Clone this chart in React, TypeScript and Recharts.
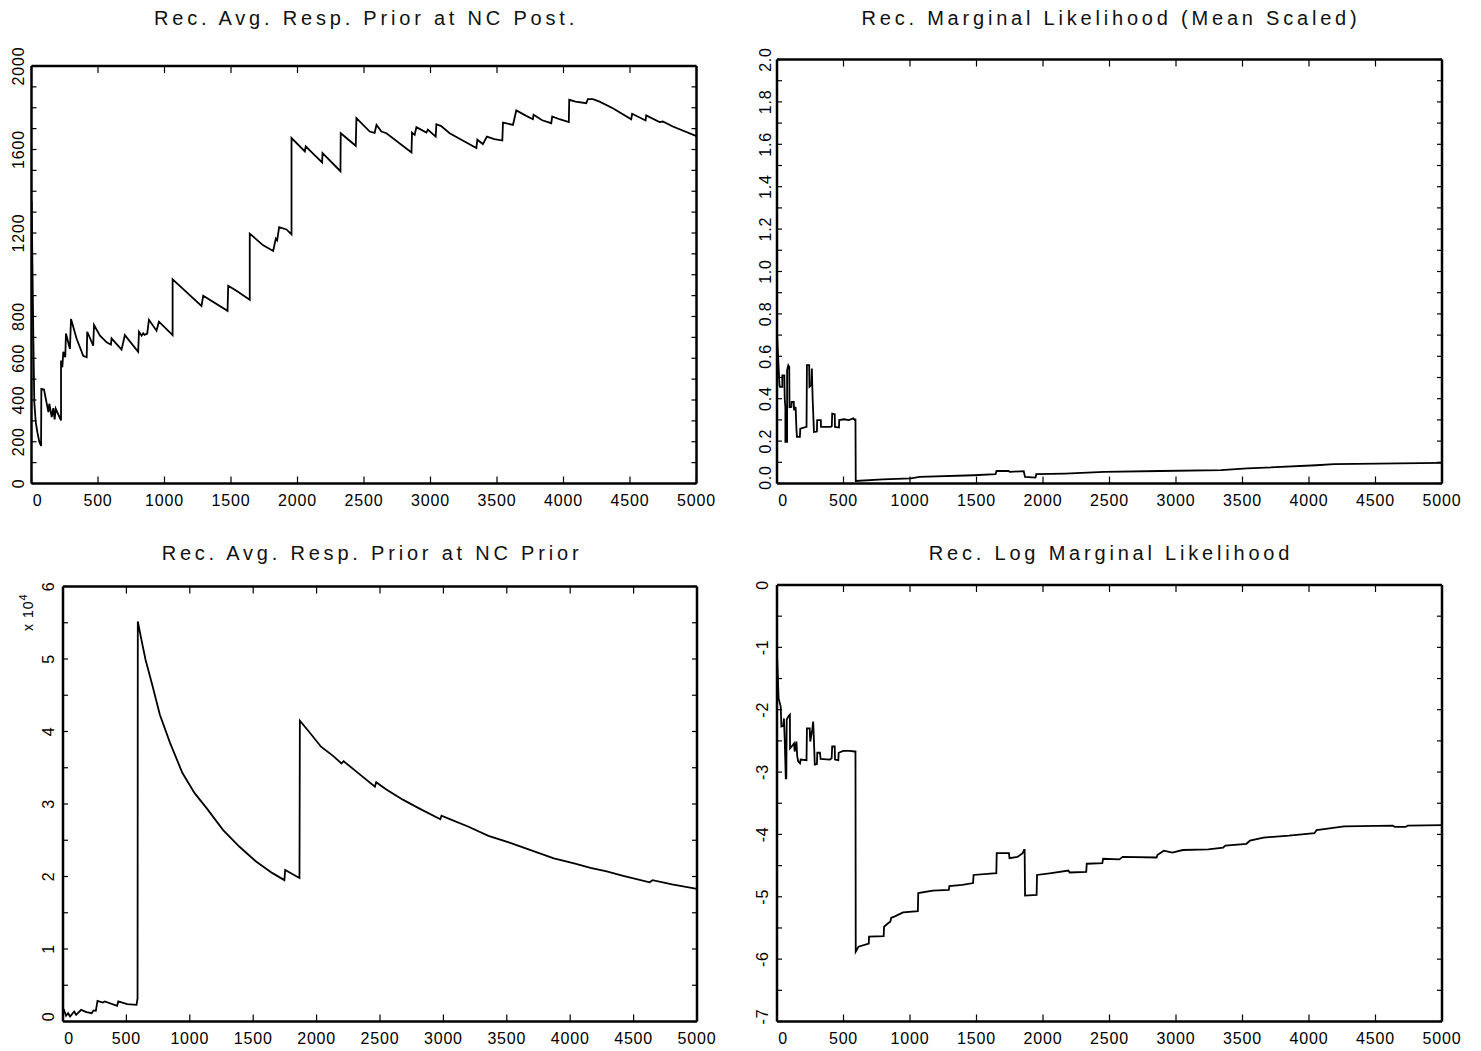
/* Four recursive-estimate traces (2x2 grid), MATLAB-style boxed axes with inward ticks */

import React from "react";
import { LineChart, Line, XAxis, YAxis } from "recharts";

const W = 1481;
const H = 1051;
const FONT = '"Liberation Sans", Arial, Helvetica, sans-serif';

const X_TICKS = [0, 500, 1000, 1500, 2000, 2500, 3000, 3500, 4000, 4500, 5000];

// Rec. Avg. Resp. Prior at NC Post.
const postX = [
  1, 14, 21, 32, 44, 59, 72, 74, 94, 127, 134, 152, 164, 174, 182, 222, 222, 232, 239, 254,
  259, 289, 297, 340, 389, 415, 419, 464, 470, 515, 565, 597, 602, 677, 702, 802, 808, 828, 840, 850,
  870, 883, 940, 958, 1061, 1061, 1141, 1278, 1291, 1474, 1479, 1541, 1641, 1641, 1742, 1817, 1837, 1847, 1862, 1917,
  1955, 1955, 2055, 2062, 2117, 2185, 2188, 2323, 2325, 2438, 2443, 2543, 2580, 2594, 2631, 2669, 2857, 2861, 2881, 2894,
  2969, 2980, 3039, 3044, 3080, 3144, 3232, 3345, 3352, 3394, 3424, 3480, 3540, 3545, 3620, 3645, 3720, 3770, 3775, 3840,
  3908, 3915, 3970, 4040, 4043, 4090, 4171, 4183, 4221, 4271, 4371, 4509, 4516, 4617, 4622, 4722, 4747, 4822, 5000,
];
const postY = [
  1352, 692, 390, 294, 246, 199, 180, 453, 450, 342, 382, 318, 361, 307, 358, 302, 589, 557, 631, 605,
  719, 644, 788, 692, 612, 605, 727, 660, 759, 708, 676, 665, 695, 641, 711, 631, 727, 708, 720, 712,
  718, 784, 732, 775, 711, 978, 931, 851, 899, 827, 947, 923, 880, 1197, 1141, 1114, 1173, 1165, 1228, 1217,
  1193, 1655, 1591, 1615, 1580, 1538, 1583, 1496, 1678, 1618, 1750, 1686, 1680, 1718, 1686, 1678, 1586, 1681, 1670, 1707,
  1681, 1695, 1662, 1721, 1712, 1678, 1647, 1607, 1647, 1626, 1662, 1650, 1643, 1729, 1718, 1787, 1761, 1745, 1766, 1740,
  1726, 1758, 1745, 1731, 1838, 1829, 1822, 1841, 1841, 1829, 1798, 1745, 1771, 1739, 1763, 1731, 1734, 1710, 1664,
];
const postTicks = [0, 100, 200, 300, 400, 500, 600, 700, 800, 900, 1000, 1100, 1200, 1300, 1400, 1500, 1600, 1700, 1800, 1900, 2000];
const postLabels = [0, 200, 400, 600, 800, 1200, 1600, 2000];

// Rec. Marginal Likelihood (Mean Scaled)
const mlX = [
  0, 18, 22, 40, 40, 55, 58, 63, 63, 76, 76, 85, 92, 94, 108, 110, 126, 128, 140, 146,
  150, 172, 175, 222, 225, 242, 244, 258, 262, 268, 278, 300, 302, 329, 331, 404, 412, 415, 434, 436,
  466, 468, 504, 540, 574, 585, 590, 592, 795, 1007, 1072, 1480, 1643, 1650, 1741, 1750, 1855, 1865, 1943, 1950,
  2165, 2458, 2882, 3339, 3535, 4056, 4187, 5000,
];
const mlY = [
  0.71, 0.47, 0.456, 0.456, 0.51, 0.51, 0.4, 0.36, 0.196, 0.196, 0.534, 0.558, 0.55, 0.36, 0.361, 0.385, 0.385, 0.346, 0.361, 0.259,
  0.22, 0.22, 0.259, 0.267, 0.558, 0.558, 0.456, 0.464, 0.542, 0.4, 0.243, 0.245, 0.299, 0.299, 0.267, 0.267, 0.27, 0.33, 0.327, 0.267,
  0.264, 0.299, 0.303, 0.299, 0.307, 0.299, 0.305, 0.012, 0.019, 0.024, 0.031, 0.039, 0.044, 0.059, 0.059, 0.055, 0.058, 0.031, 0.028, 0.044,
  0.047, 0.055, 0.059, 0.063, 0.071, 0.086, 0.091, 0.097,
];
const mlTicks = [0, 0.1, 0.2, 0.3, 0.4, 0.5, 0.6, 0.7, 0.8, 0.9, 1, 1.1, 1.2, 1.3, 1.4, 1.5, 1.6, 1.7, 1.8, 1.9, 2];
const mlLabels = [0, 0.2, 0.4, 0.6, 0.8, 1, 1.2, 1.4, 1.6, 1.8, 2];

// Rec. Avg. Resp. Prior at NC Prior
const priorX = [
  5, 24, 40, 56, 88, 104, 143, 185, 226, 240, 259, 272, 314, 330, 426, 436, 506, 580, 588, 590,
  619, 651, 700, 764, 845, 941, 1038, 1134, 1263, 1392, 1520, 1649, 1746, 1752, 1865, 1868, 1939, 2035, 2132, 2196,
  2213, 2326, 2460, 2470, 2550, 2680, 2808, 2976, 2985, 3065, 3194, 3355, 3516, 3677, 3871, 4031, 4160, 4288, 4418, 4627,
  4650, 4803, 5000,
];
const priorY = [
  1710, 790, 1150, 690, 1380, 920, 1610, 1290, 1150, 1520, 1470, 2850, 2620, 2760, 2160, 2760, 2390, 2300, 3220, 55170,
  52600, 49900, 46700, 42300, 38400, 34300, 31500, 29400, 26400, 24100, 22100, 20500, 19500, 20900, 19800, 41500, 40000, 37900, 36600, 35600,
  35900, 34300, 32400, 33000, 32000, 30600, 29400, 27900, 28400, 27800, 26900, 25600, 24700, 23700, 22500, 21800, 21200, 20700, 20100, 19200,
  19500, 18900, 18300,
];
const priorTicks = [0, 5000, 10000, 15000, 20000, 25000, 30000, 35000, 40000, 45000, 50000, 55000, 60000];
const priorLabels = [0, 10000, 20000, 30000, 40000, 50000, 60000];

// Rec. Log Marginal Likelihood
const logX = [
  0, 12, 28, 33, 47, 52, 58, 66, 70, 73, 85, 97, 98, 110, 128, 133, 146, 152, 160, 173,
  178, 222, 225, 246, 250, 265, 272, 278, 284, 300, 303, 323, 328, 398, 411, 415, 434, 436, 461, 464,
  498, 549, 581, 590, 592, 600, 613, 690, 692, 802, 805, 837, 852, 858, 890, 948, 1059, 1062, 1171, 1292,
  1296, 1394, 1474, 1478, 1649, 1652, 1744, 1748, 1808, 1847, 1857, 1862, 1865, 1952, 1955, 2063, 2191, 2200, 2325, 2329,
  2446, 2452, 2574, 2599, 2854, 2860, 2908, 2972, 3052, 3243, 3355, 3371, 3530, 3556, 3658, 3849, 4041, 4057, 4168, 4263,
  4630, 4646, 4726, 4742, 5000,
];
const logY = [
  -1.1, -1.82, -1.95, -2.27, -2.26, -2.14, -2.48, -3.1, -3.1, -2.16, -2.11, -2.08, -2.62, -2.59, -2.54, -2.67, -2.51, -2.75, -2.83, -2.86,
  -2.8, -2.81, -2.3, -2.3, -2.51, -2.32, -2.19, -2.51, -2.88, -2.87, -2.69, -2.69, -2.79, -2.8, -2.78, -2.59, -2.59, -2.8, -2.81, -2.69,
  -2.66, -2.66, -2.67, -2.67, -5.88, -5.85, -5.8, -5.75, -5.64, -5.63, -5.48, -5.42, -5.4, -5.34, -5.31, -5.25, -5.23, -4.94, -4.9, -4.89,
  -4.83, -4.81, -4.78, -4.65, -4.62, -4.3, -4.3, -4.38, -4.36, -4.3, -4.25, -4.25, -4.98, -4.97, -4.65, -4.62, -4.58, -4.61, -4.6, -4.47,
  -4.46, -4.39, -4.4, -4.36, -4.37, -4.33, -4.26, -4.29, -4.25, -4.24, -4.21, -4.18, -4.15, -4.1, -4.05, -4.02, -3.98, -3.93, -3.9, -3.87,
  -3.86, -3.88, -3.88, -3.86, -3.85,
];
const logTicks = [-7, -6.5, -6, -5.5, -5, -4.5, -4, -3.5, -3, -2.5, -2, -1.5, -1, -0.5, 0];
const logLabels = [-7, -6, -5, -4, -3, -2, -1, 0];

const zip = (xs: number[], ys: number[]) => xs.map((x, i) => ({ x, y: ys[i] }));

interface Box {
  l: number;
  t: number;
  r: number;
  b: number;
}

interface PanelProps {
  data: { x: number; y: number }[];
  box: Box;
  yDomain: [number, number];
  yTicks: number[];
  yLabels: number[];
  fmt: (v: number) => string;
  gap: number;
  zeroShift: number;
}

const axisLine = { stroke: "#000", strokeWidth: 2.5 };
const tickLine = { stroke: "#000", strokeWidth: 1.2 };

// top/right axes only carry tick marks; a render function keeps the tick lines alive
const NoLabel = () => <g />;

// all four axes are mirrored so their tick marks point into the box
function Panel({ data, box, yDomain, yTicks, yLabels, fmt, gap, zeroShift }: PanelProps) {
  const XTick = (p: any) => {
    const v = p.payload.value;
    return (
      <text
        x={p.x + (v === 0 ? 6 : 0)}
        y={box.b + 22}
        textAnchor="middle"
        fontSize={16}
        fontFamily={FONT}
        letterSpacing={0.8}
        fill="#000"
      >
        {v}
      </text>
    );
  };

  const YTick = (p: any) => {
    const v = p.payload.value;
    if (!yLabels.includes(v)) return <g />;
    const bx = box.l - gap;
    const by = p.y - (v === yDomain[0] ? zeroShift : 0);
    return (
      <text
        x={bx}
        y={by}
        transform={`rotate(-90 ${bx} ${by})`}
        textAnchor="middle"
        fontSize={16}
        fontFamily={FONT}
        letterSpacing={0.8}
        fill="#000"
      >
        {fmt(v)}
      </text>
    );
  };

  return (
    <div style={{ position: "absolute", left: 0, top: 0 }}>
      <LineChart
        width={W}
        height={H}
        data={data}
        margin={{ top: box.t, right: W - box.r, bottom: H - box.b, left: box.l }}
      >
        <XAxis
          xAxisId="b"
          mirror
          type="number"
          dataKey="x"
          domain={[0, 5000]}
          ticks={X_TICKS}
          interval={0}
          allowDataOverflow
          height={30}
          tickSize={7}
          tickMargin={0}
          axisLine={axisLine}
          tickLine={tickLine}
          tick={XTick}
        />
        <XAxis
          xAxisId="t"
          orientation="top"
          mirror
          type="number"
          dataKey="x"
          domain={[0, 5000]}
          ticks={X_TICKS}
          interval={0}
          allowDataOverflow
          height={30}
          tickSize={7}
          axisLine={axisLine}
          tickLine={tickLine}
          tick={NoLabel}
        />
        <YAxis
          yAxisId="l"
          mirror
          type="number"
          domain={yDomain}
          ticks={yTicks}
          interval={0}
          allowDataOverflow
          width={30}
          tickSize={5}
          tickMargin={0}
          axisLine={axisLine}
          tickLine={tickLine}
          tick={YTick}
        />
        <YAxis
          yAxisId="r"
          orientation="right"
          mirror
          type="number"
          domain={yDomain}
          ticks={yTicks}
          interval={0}
          allowDataOverflow
          width={30}
          tickSize={5}
          axisLine={axisLine}
          tickLine={tickLine}
          tick={NoLabel}
        />
        <Line
          xAxisId="b"
          yAxisId="l"
          dataKey="y"
          type="linear"
          stroke="#000"
          strokeWidth={1.8}
          dot={false}
          isAnimationActive={false}
        />
      </LineChart>
    </div>
  );
}

const titleStyle = {
  fontSize: 20,
  fontFamily: FONT,
  letterSpacing: 3.8,
  fill: "#111",
};

export default function App() {
  return (
    <div style={{ position: "absolute", left: 0, top: 0, width: W, height: H, background: "#fff", overflow: "hidden" }}>
      <Panel
        data={zip(postX, postY)}
        box={{ l: 31.5, t: 66, r: 696.5, b: 483.5 }}
        yDomain={[0, 2000]}
        yTicks={postTicks}
        yLabels={postLabels}
        fmt={(v) => String(v)}
        gap={8}
        zeroShift={0}
      />
      <Panel
        data={zip(mlX, mlY)}
        box={{ l: 777, t: 59.5, r: 1442, b: 483.5 }}
        yDomain={[0, 2]}
        yTicks={mlTicks}
        yLabels={mlLabels}
        fmt={(v) => v.toFixed(1)}
        gap={6}
        zeroShift={6}
      />
      <Panel
        data={zip(priorX, priorY)}
        box={{ l: 63, t: 586.5, r: 697, b: 1021.5 }}
        yDomain={[0, 60000]}
        yTicks={priorTicks}
        yLabels={priorLabels}
        fmt={(v) => String(v / 10000)}
        gap={9.5}
        zeroShift={5}
      />
      <Panel
        data={zip(logX, logY)}
        box={{ l: 777, t: 585, r: 1442, b: 1021.5 }}
        yDomain={[-7, 0]}
        yTicks={logTicks}
        yLabels={logLabels}
        fmt={(v) => String(v)}
        gap={9}
        zeroShift={5}
      />
      <svg width={W} height={H} style={{ position: "absolute", left: 0, top: 0, pointerEvents: "none" }}>
        <text x={366} y={25} textAnchor="middle" {...titleStyle}>
          Rec. Avg. Resp. Prior at NC Post.
        </text>
        <text x={1111} y={25} textAnchor="middle" {...titleStyle}>
          Rec. Marginal Likelihood (Mean Scaled)
        </text>
        <text x={372} y={560} textAnchor="middle" {...titleStyle}>
          Rec. Avg. Resp. Prior at NC Prior
        </text>
        <text x={1111} y={560} textAnchor="middle" {...titleStyle}>
          Rec. Log Marginal Likelihood
        </text>
        <text x={33} y={631} transform="rotate(-90 33 631)" fontSize={14} fontFamily={FONT} letterSpacing={1} fill="#000">
          x 10
          <tspan dy={-6} fontSize={11}>
            4
          </tspan>
        </text>
      </svg>
    </div>
  );
}
